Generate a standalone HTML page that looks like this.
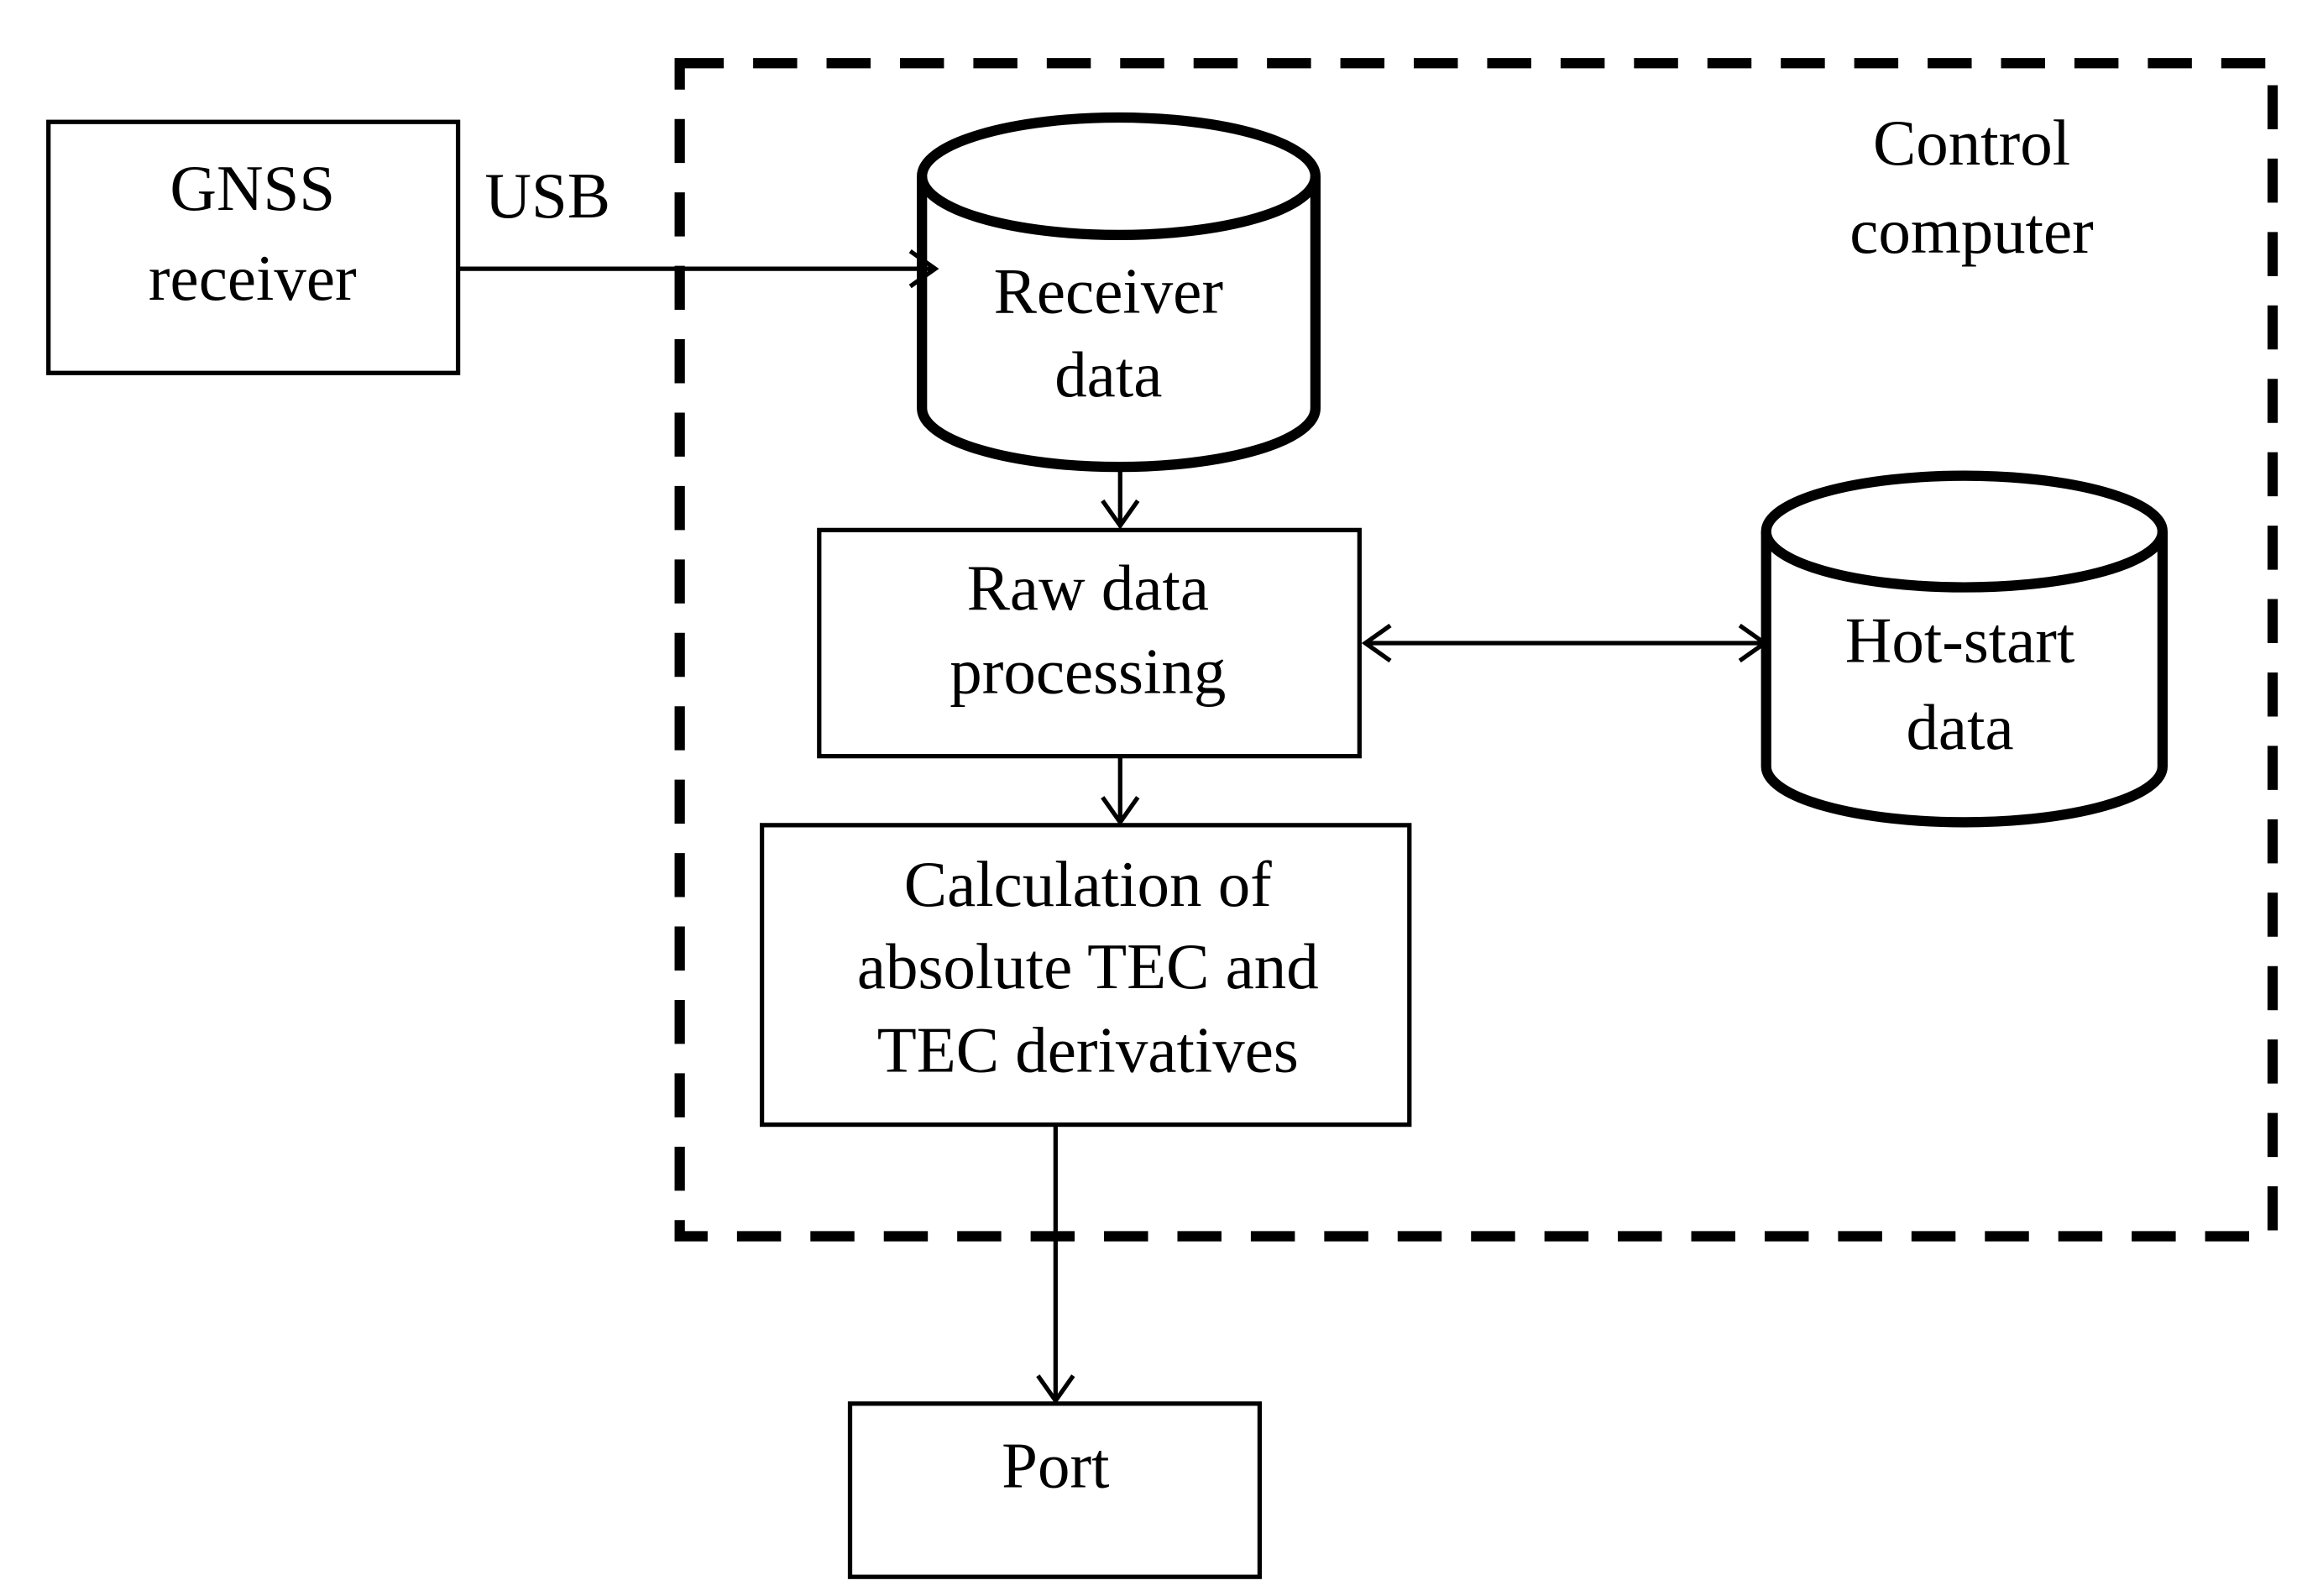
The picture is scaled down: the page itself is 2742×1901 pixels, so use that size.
<!DOCTYPE html>
<html><head><meta charset="utf-8"><style>html,body{margin:0;padding:0;background:#fff}svg{display:block}</style></head>
<body>
<svg width="2742" height="1901" viewBox="0 0 1568 1087" xmlns="http://www.w3.org/2000/svg" font-family="Liberation Serif, serif" font-size="44" text-anchor="middle" fill="#000">
<rect x="0" y="0" width="1568" height="1087" fill="#fff"/>
<g fill="none" stroke="#000">
<rect x="463" y="43" width="1085" height="799" stroke-width="7" stroke-dasharray="30,20"/>
<rect x="33" y="83" width="279" height="171" stroke-width="3"/>
<rect x="558" y="361" width="368" height="154" stroke-width="3"/>
<rect x="519" y="562" width="441" height="204" stroke-width="3"/>
<rect x="579" y="956" width="279" height="118" stroke-width="3"/>
<path d="M628 120 V278 A134 40 0 0 0 896 278 V120" stroke-width="7"/>
<ellipse cx="762" cy="120" rx="134" ry="40" stroke-width="7"/>
<path d="M1203 362 V522 A135 38 0 0 0 1473 522 V362" stroke-width="7"/>
<ellipse cx="1338" cy="362" rx="135" ry="38" stroke-width="7"/>
<g stroke-width="3">
<path d="M312 183 H637 M620 171 L637 183 L620 195"/>
<path d="M763 318 V358 M751 341 L763 358 L775 341"/>
<path d="M930 438 H1202 M947 426 L930 438 L947 450 M1185 426 L1202 438 L1185 450"/>
<path d="M763 515 V560 M751 543 L763 560 L775 543"/>
<path d="M719 766 V954 M707 937 L719 954 L731 937"/>
</g>
</g>
<text x="172" y="143">GNSS</text>
<text x="172" y="204">receiver</text>
<text x="373" y="148">USB</text>
<text x="1343" y="112">Control</text>
<text x="1343" y="172">computer</text>
<text x="755" y="213">Receiver</text>
<text x="755" y="270">data</text>
<text x="741" y="415">Raw data</text>
<text x="741" y="472">processing</text>
<text x="1335" y="451">Hot-start</text>
<text x="1335" y="510">data</text>
<text x="741" y="617">Calculation of</text>
<text x="741" y="673">absolute TEC and</text>
<text x="741" y="730">TEC derivatives</text>
<text x="719" y="1013">Port</text>
</svg>
</body></html>
